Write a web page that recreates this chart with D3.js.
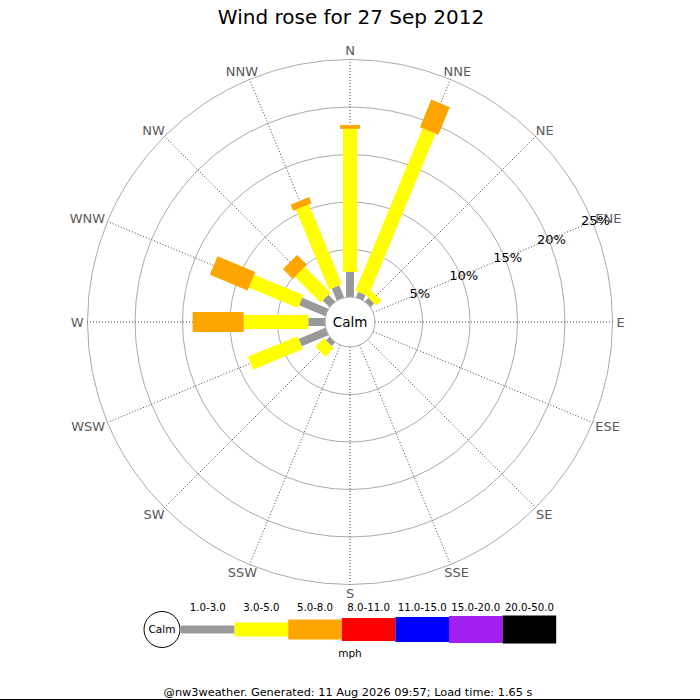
<!DOCTYPE html>
<html>
<head>
<meta charset="utf-8">
<script src="https://cdn.jsdelivr.net/npm/d3@7/dist/d3.min.js"></script>
<style>
  html, body { margin: 0; padding: 0; background: #fff; }
  svg { display: block; font-family: "DejaVu Sans", sans-serif; }
</style>
</head>
<body>
<svg id="chart" width="700" height="700"></svg>
<script>
// ---- data ----
const title = "Wind rose for 27 Sep 2012";
const directions = ["N","NNE","NE","ENE","E","ESE","SE","SSE","S","SSW","SW","WSW","W","WNW","NW","NNW"];
const speedClasses = ["1.0-3.0","3.0-5.0","5.0-8.0","8.0-11.0","11.0-15.0","15.0-20.0","20.0-50.0"];
const classColors = ["#999999","#ffff00","#ffa500","#ff0000","#0000ff","#a020f0","#000000"];
// percent of time per direction, per speed class
const pct1to3  = [2.63, 0.63, 0.55, 0, 0, 0, 0, 0, 0, 0, 0.53, 3.05, 1.76, 3.00, 1.00, 1.37];
const pct3to5  = [15.07, 18.5, 0.75, 0, 0, 0, 0, 0, 0, 0, 1.26, 5.65, 6.80, 5.60, 3.84, 9.10];
const pct5to8  = [0.40, 3.15, 0, 0, 0, 0, 0, 0, 0, 0, 0, 0, 5.37, 4.30, 1.46, 0.70];
const radialTicks = [5, 10, 15, 20, 25];
const unitLabel = "mph";
const calmLabel = "Calm";
const footer = "@nw3weather. Generated: 11 Aug 2026 09:57; Load time: 1.65 s";

// ---- layout ----
const svg = d3.select("#chart");
const cx = 350, cy = 322;
const calmR = 25;
const r = d3.scaleLinear().domain([0, 25]).range([calmR, 262.5]);
const barWidths = [8, 14, 20, 23, 25, 27, 28];
const angle = d3.scaleLinear().domain([0, directions.length]).range([0, 360]);
const rad = d => d * Math.PI / 180;

// frame bottom line
svg.append("line").attr("x1", 0).attr("x2", 700).attr("y1", 699.5).attr("y2", 699.5)
  .attr("stroke", "#000").attr("stroke-width", 1);

// title
svg.append("text").attr("x", 351).attr("y", 24).attr("text-anchor", "middle")
  .attr("font-size", 20).attr("fill", "#000").text(title);

const g = svg.append("g").attr("transform", `translate(${cx},${cy})`);

// rings
g.selectAll("circle.ring").data(radialTicks).join("circle")
  .attr("class", "ring").attr("r", d => r(d))
  .attr("fill", "none").attr("stroke", "#aaaaaa").attr("stroke-width", 1);

// spokes
g.selectAll("line.spoke").data(directions).join("line")
  .attr("class", "spoke")
  .attr("x1", (d, i) => calmR * Math.sin(rad(angle(i))))
  .attr("y1", (d, i) => -calmR * Math.cos(rad(angle(i))))
  .attr("x2", (d, i) => r(25) * Math.sin(rad(angle(i))))
  .attr("y2", (d, i) => -r(25) * Math.cos(rad(angle(i))))
  .attr("stroke", "#444").attr("stroke-width", 1).attr("stroke-dasharray", "1,2");

// bars
const series = [pct1to3, pct3to5, pct5to8];
directions.forEach((dname, i) => {
  let cum = 0;
  const dg = g.append("g").attr("transform", `rotate(${angle(i)})`);
  series.forEach((s, k) => {
    const v = s[i];
    if (v > 0) {
      const r0 = r(cum), r1 = r(cum + v);
      dg.append("rect")
        .attr("x", -barWidths[k] / 2).attr("width", barWidths[k])
        .attr("y", -r1).attr("height", r1 - r0)
        .attr("fill", classColors[k]);
      cum += v;
    }
  });
});

// calm circle
g.append("circle").attr("r", calmR).attr("fill", "#fff").attr("stroke", "#aaaaaa").attr("stroke-width", 1);
g.append("text").attr("x", 0).attr("y", 0).attr("dy", "0.36em").attr("text-anchor", "middle")
  .attr("font-size", 13.5).attr("fill", "#000").text(calmLabel);

// direction labels
directions.forEach((dname, i) => {
  const a = rad(angle(i));
  const R = r(25);
  const t = g.append("text").attr("font-size", 13).attr("fill", "#5a5a5a")
    .attr("text-anchor", "middle").text(dname);
  const w = t.node().getComputedTextLength();
  const h = 9.5;
  const x = R * Math.sin(a) + (w / 2 + 4) * Math.sin(a);
  const y = -R * Math.cos(a) - (h / 2 + 4) * Math.cos(a);
  t.attr("x", x).attr("y", y + 4.7);
});

// radial tick labels along ENE
const labA = rad(67.5);
g.selectAll("text.rl").data(radialTicks).join("text")
  .attr("class", "rl").attr("font-size", 13).attr("fill", "#000").attr("text-anchor", "middle")
  .attr("x", d => (r(d) + 2) * Math.sin(labA) + 1)
  .attr("y", d => -(r(d) + 2) * Math.cos(labA))
  .attr("dy", "0.36em")
  .text(d => d + "%");

// legend
const lx0 = 181, segW = 53.6, ly = 629.5;
const lg = svg.append("g");
lg.append("circle").attr("cx", 162).attr("cy", ly).attr("r", 18)
  .attr("fill", "#fff").attr("stroke", "#000").attr("stroke-width", 1);
lg.append("text").attr("x", 162).attr("y", ly).attr("dy", "0.36em").attr("text-anchor", "middle")
  .attr("font-size", 10.5).attr("fill", "#000").text(calmLabel);
speedClasses.forEach((c, k) => {
  lg.append("rect").attr("x", lx0 + k * segW).attr("width", segW)
    .attr("y", ly - barWidths[k] / 2).attr("height", barWidths[k])
    .attr("fill", classColors[k]);
  lg.append("text").attr("x", lx0 + k * segW + segW / 2).attr("y", 611)
    .attr("text-anchor", "middle").attr("font-size", 10.2).attr("fill", "#000").text(c);
});
lg.append("text").attr("x", 350).attr("y", 657).attr("text-anchor", "middle")
  .attr("font-size", 10.5).attr("fill", "#000").text(unitLabel);

// footer
svg.append("text").attr("x", 348).attr("y", 696).attr("text-anchor", "middle")
  .attr("font-size", 11.3).attr("fill", "#000").text(footer);
</script>
</body>
</html>
